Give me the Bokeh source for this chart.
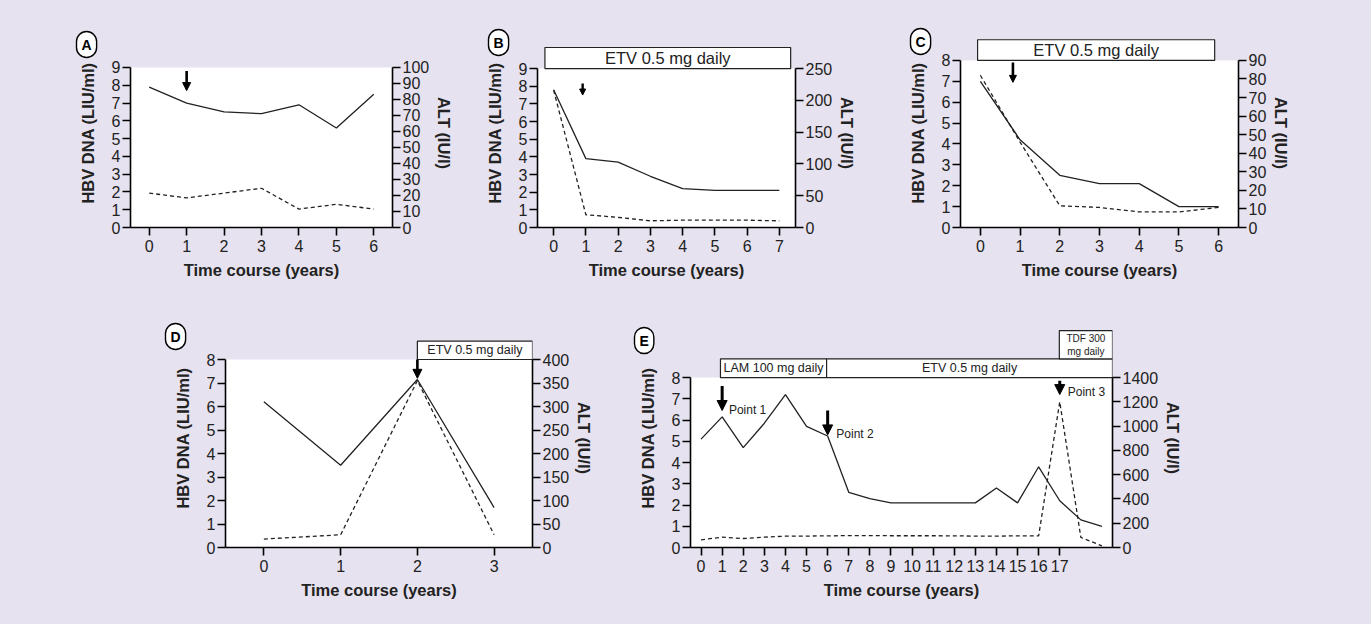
from bokeh.plotting import figure
from bokeh.models import (Range1d, LinearAxis, FixedTicker, Arrow, NormalHead,
                          ColumnDataSource, Title)
from bokeh.layouts import row, column
from bokeh.core.properties import value
from bokeh.embed import file_html
from bokeh.resources import INLINE

LAV = "#E7E2EF"
FONT = "Liberation Sans"
INK = "#222222"

# ---------------- data ----------------
A_years = [0, 1, 2, 3, 4, 5, 6]
A_hbv = [7.9, 7.0, 6.5, 6.4, 6.9, 5.6, 7.5]
A_alt = [21.5, 18.5, 21.5, 24.5, 11.5, 14.5, 11.5]
A_arrow_x = [1]
A_arrow_top = [8.8]
A_arrow_tip = [7.7]

B_years = [0, 1, 2, 3, 4, 5, 6, 7]
B_hbv = [7.8, 3.9, 3.7, 2.9, 2.2, 2.1, 2.1, 2.1]
B_alt = [216, 20, 16, 10.5, 11.5, 11.5, 11.5, 10.5]
B_arrow_x = [0.9]
B_arrow_top = [8.15]
B_arrow_tip = [7.5]
B_treat = ["ETV 0.5 mg daily"]
B_treat_start = [-0.27]
B_treat_end = [7.35]
B_treat_low = [9.0]
B_treat_high = [10.19]

C_years = [0, 1, 2, 3, 4, 5, 6]
C_hbv = [7.0, 4.2, 2.5, 2.1, 2.1, 1.0, 1.0]
C_alt = [82, 46, 11.7, 10.8, 8.4, 8.4, 10.8]
C_arrow_x = [0.82]
C_arrow_top = [7.9]
C_arrow_tip = [6.95]
C_treat = ["ETV 0.5 mg daily"]
C_treat_start = [-0.07]
C_treat_end = [5.9]
C_treat_low = [8.0]
C_treat_high = [8.99]

D_years = [0, 1, 2, 3]
D_hbv = [6.2, 3.5, 7.15, 1.7]
D_alt = [18, 27, 355, 27]
D_arrow_x = [2]
D_arrow_top = [8.0]
D_arrow_tip = [7.2]
D_treat = ["ETV 0.5 mg daily"]
D_treat_start = [2.0]
D_treat_end = [3.5]
D_treat_low = [8.0]
D_treat_high = [8.78]

E_years = list(range(20))
E_hbv = [5.1, 6.15, 4.7, 5.85, 7.2, 5.7, 5.25, 2.6, 2.3, 2.1, 2.1, 2.1, 2.1, 2.1,
         2.8, 2.1, 3.8, 2.2, 1.3, 1.0]
E_alt = [63, 85, 74, 85, 94, 94, 96, 98, 98, 97, 97, 97, 96, 94, 94, 96, 96,
         1200, 83, 14]
E_xticks = list(range(18))
E_arrow_x = [1, 6, 17]
E_arrow_top = [7.6, 6.45, 7.85]
E_arrow_tip = [6.45, 5.3, 7.2]
E_points = ["Point 1", "Point 2", "Point 3"]
E_point_x = [1.32, 6.41, 17.38]
E_point_y = [6.45, 5.35, 7.31]
E_treat = ["LAM 100 mg daily", "ETV 0.5 mg daily", "TDF 300\nmg daily"]
E_treat_start = [0.92, 5.95, 16.98]
E_treat_end = [5.95, 19.5, 19.5]
E_treat_low = [8.0, 8.0, 8.88]
E_treat_high = [8.88, 8.88, 10.21]
E_treat_size = ["12.5px", "12.5px", "10px"]

LETTER_STYLE = dict(text_font=FONT, text_font_style="bold", text_font_size="14px",
                    text_color="black", border_line_color="black",
                    border_line_width=1.4, background_fill_color="white", align="left")


def make_panel(width, height, mb, x_end, hbv_top, y_end, alt_top, alt_step,
               years, hbv, alt, xticks):
    mbl, mbr, mbt, mbb = mb
    p = figure(width=width, height=height, x_range=Range1d(-0.5, x_end),
               y_range=Range1d(0, y_end), output_backend="svg", toolbar_location=None,
               min_border_left=mbl, min_border_right=mbr, min_border_top=mbt,
               min_border_bottom=mbb)
    p.background_fill_color = LAV
    p.border_fill_color = LAV
    p.outline_line_color = None
    p.grid.visible = False

    p.extra_y_ranges = {"alt": Range1d(0, alt_top * y_end / hbv_top)}
    ra = LinearAxis(y_range_name="alt", bounds=(0, alt_top),
                    ticker=FixedTicker(ticks=list(range(0, alt_top + 1, alt_step))),
                    axis_label="ALT (IU/l)")
    p.add_layout(ra, "right")

    p.xaxis.ticker = FixedTicker(ticks=xticks)
    p.yaxis[0].ticker = FixedTicker(ticks=list(range(0, hbv_top + 1)))
    p.yaxis[0].bounds = (0, hbv_top)
    p.yaxis[0].axis_label = "HBV DNA (LIU/ml)"
    p.xaxis.axis_label = "Time course (years)"

    for ax in [p.xaxis[0], p.yaxis[0], ra]:
        ax.axis_line_color = "black"
        ax.axis_line_width = 1.6
        ax.major_tick_line_color = "black"
        ax.major_tick_line_width = 1.6
        ax.major_tick_out = 8
        ax.major_tick_in = 0
        ax.minor_tick_line_color = None
        ax.major_label_text_font = FONT
        ax.major_label_text_font_size = "16px"
        ax.major_label_text_color = "#222222"
        ax.axis_label_text_font = FONT
        ax.axis_label_text_font_style = "bold"
        ax.axis_label_text_font_size = "16.5px"
        ax.axis_label_text_color = "#222222"
    p.xaxis[0].major_label_standoff = 4
    p.xaxis[0].axis_label_standoff = 6
    p.yaxis[0].major_label_standoff = 2
    p.yaxis[0].axis_label_standoff = 12
    ra.major_label_standoff = 2
    ra.axis_label_standoff = 3

    # white plotting area
    p.quad(left=-0.5, right=x_end, bottom=0, top=hbv_top, fill_color="white",
           line_color=None)
    p.line(years, hbv, color=INK, line_width=1.3)
    p.line(years, alt, y_range_name="alt", color=INK, line_width=1.3, line_dash="4 3")
    return p


def add_letter(p, letter, offset, standoff):
    try:
        t = Title(text=letter, offset=offset, standoff=standoff, padding=5,
                  border_radius=11, **LETTER_STYLE)
    except Exception:
        t = Title(text=letter, offset=offset, standoff=standoff, **LETTER_STYLE)
    p.add_layout(t, "above")


def add_arrows(p, xs, tops, tips, size=9, width=2.6):
    src = ColumnDataSource(dict(x=xs, top=tops, tip=tips))
    p.add_layout(Arrow(end=NormalHead(size=size, fill_color="black", line_color="black",
                                      line_width=1),
                       x_start="x", y_start="top", x_end="x", y_end="tip",
                       line_color="black", line_width=width, source=src))


def add_treat(p, labels, starts, ends, lows, highs, sizes):
    p.quad(left=starts, right=ends, bottom=lows, top=highs, fill_color="white",
           line_color="#222222", line_width=1.2)
    for lab, s, e, lo, hi, sz in zip(labels, starts, ends, lows, highs, sizes):
        p.text(x=[(s + e) / 2], y=[(lo + hi) / 2], text=[lab], text_align="center",
               text_baseline="middle", text_font=value(FONT), text_font_size=sz,
               text_color="#222222", text_line_height=1.15)


# ---- row 1 (height 300): frames share top 38 / bottom 227 ----
pA = make_panel(470, 300, (130, 78, 38, 73), 6.5, 9, 10.63, 100, 10,
                A_years, A_hbv, A_alt, A_years)
add_arrows(pA, A_arrow_x, A_arrow_top, A_arrow_tip, size=8)
add_letter(pA, "A", -54, -38)

pB = make_panel(410, 300, (67, 85, 38, 73), 7.5, 9, 10.70, 250, 50,
                B_years, B_hbv, B_alt, B_years)
add_treat(pB, B_treat, B_treat_start, B_treat_end, B_treat_low, B_treat_high, ["16.5px"])
add_arrows(pB, B_arrow_x, B_arrow_top, B_arrow_tip, size=6, width=2.4)
add_letter(pB, "B", -49, -34)

pC = make_panel(491, 300, (80, 133, 38, 73), 6.5, 8, 9.05, 90, 10,
                C_years, C_hbv, C_alt, C_years)
add_treat(pC, C_treat, C_treat_start, C_treat_end, C_treat_low, C_treat_high, ["16.5px"])
add_arrows(pC, C_arrow_x, C_arrow_top, C_arrow_tip, size=7)
add_letter(pC, "C", -50, -32)

# ---- row 2 (height 324): frames share top 328 / bottom 547 ----
pD = make_panel(620, 324, (225, 88, 28, 77), 3.5, 8, 9.32, 400, 50,
                D_years, D_hbv, D_alt, D_years)
add_treat(pD, D_treat, D_treat_start, D_treat_end, D_treat_low, D_treat_high, ["12.5px"])
add_arrows(pD, D_arrow_x, D_arrow_top, D_arrow_tip, size=9)
add_letter(pD, "D", -60, -42)

pE = make_panel(751, 324, (70, 259, 28, 77), 19.5, 8, 10.31, 1400, 200,
                E_years, E_hbv, E_alt, E_xticks)
add_treat(pE, E_treat, E_treat_start, E_treat_end, E_treat_low, E_treat_high, E_treat_size)
add_arrows(pE, E_arrow_x, E_arrow_top, E_arrow_tip, size=10, width=3)
pE.text(x=E_point_x, y=E_point_y, text=E_points, text_align="left", text_baseline="middle",
        text_font=value(FONT), text_font_size="12px", text_color="#222222")
add_letter(pE, "E", -56, -50)

bg = {"background-color": LAV}
layout = column(row(pA, pB, pC, styles=bg), row(pD, pE, styles=bg), styles=bg)
open("out.html", "w").write(file_html(layout, INLINE))
